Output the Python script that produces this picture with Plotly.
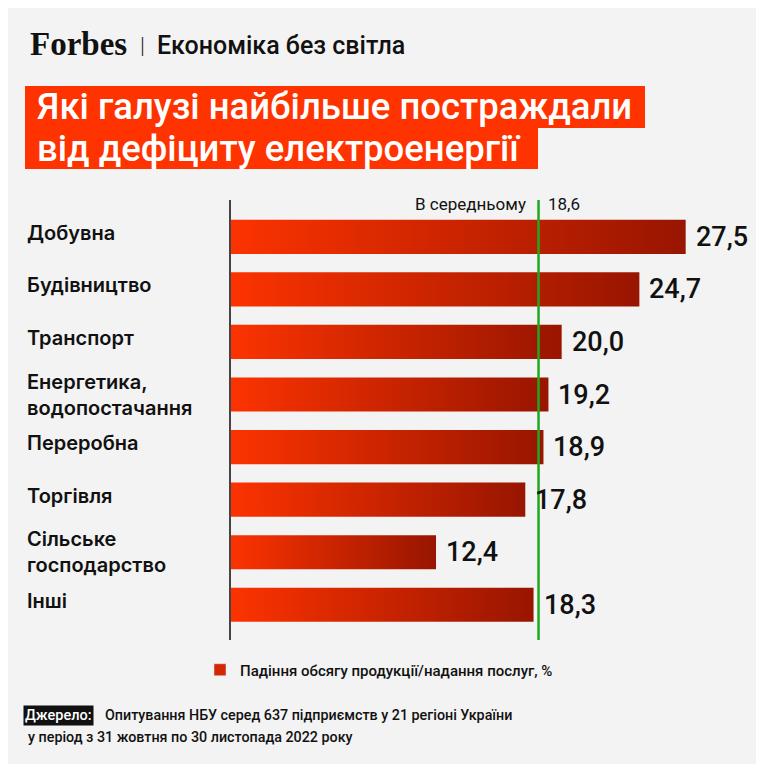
import plotly.graph_objects as go

# data
categories = ["Добувна", "Будівництво", "Транспорт", "Енергетика,<br>водопостачання",
              "Переробна", "Торгівля", "Сільське<br>господарство", "Інші"]
values = [27.5, 24.7, 20.0, 19.2, 18.9, 17.8, 12.4, 18.3]
average = 18.6
average_label = "В середньому"
series_name = "Падіння обсягу продукції/надання послуг, %"

W, H = 764, 764
OFF = 8  # page body margin offset
L, R, T, B = 231 - OFF, 37 + OFF, 200 - OFF, 124 + OFF
PW, PH = W - L - R, H - T - B
BG = "#f3f3f3"
RED = "#ff3300"
GRAD = [[0, "#fc3300"], [1, "#981500"]]
FONT = "Roboto"
LABEL_FONT = "Inter"


def px(x, y):
    # pixel position (as in the target) -> paper coords
    return (x - OFF - L) / PW, (H - B - (y - OFF)) / PH


def fmt(v):
    return f"{v:.1f}".replace(".", ",")


fig = go.Figure()

half = 0.325
for i, (cat, v) in enumerate(zip(categories, values)):
    fig.add_trace(go.Scatter(
        x=[0, v, v, 0, 0],
        y=[i - half, i - half, i + half, i + half, i - half],
        mode="lines",
        fill="toself",
        fillgradient=dict(type="horizontal", colorscale=GRAD),
        line=dict(width=0),
        showlegend=False,
        hoverinfo="skip",
    ))

# legend-only entry (square swatch)
fig.add_trace(go.Bar(x=[None], y=[None], orientation="h", name=series_name,
                     marker=dict(color="#d42800"), showlegend=True))

annotations = []

# category labels
for i, cat in enumerate(categories):
    x0, _ = px(25, 0)
    annotations.append(dict(
        x=x0, y=i, xref="paper", yref="y", text=cat, showarrow=False,
        xanchor="left", yanchor="middle", align="left",
        yshift=0 if "<br>" in cat else 4,
        font=dict(family=LABEL_FONT, size=20, color="#111", weight=600),
    ))

# value labels
for i, v in enumerate(values):
    annotations.append(dict(
        x=v, y=i, xref="x", yref="y", text=fmt(v), showarrow=False,
        xanchor="left", yanchor="middle", xshift=8,
        font=dict(family=FONT, size=27, color="#111", weight=500),
    ))

# average labels
_, ya = px(0, 204)
annotations.append(dict(
    x=average, y=ya, xref="x", yref="paper", text=average_label, showarrow=False,
    xanchor="right", yanchor="middle", xshift=-11,
    font=dict(family=FONT, size=17, color="#111"),
))
annotations.append(dict(
    x=average, y=ya, xref="x", yref="paper", text=fmt(average), showarrow=False,
    xanchor="left", yanchor="middle", xshift=7,
    font=dict(family=FONT, size=17, color="#111"),
))

# header
x, y = px(28, 44)
annotations.append(dict(
    x=x, y=y, xref="paper", yref="paper", text="<b>Forbes</b>", showarrow=False,
    xanchor="left", yanchor="middle",
    font=dict(family="Liberation Serif", size=33, color="#111"),
))
x, y = px(142, 46)
annotations.append(dict(
    x=x, y=y, xref="paper", yref="paper", text="|", showarrow=False,
    xanchor="center", yanchor="middle",
    font=dict(family=FONT, size=22, color="#222", weight=300),
))
x, y = px(155, 46)
annotations.append(dict(
    x=x, y=y, xref="paper", yref="paper", text="Економіка без світла", showarrow=False,
    xanchor="left", yanchor="middle",
    font=dict(family=FONT, size=25, color="#111", weight=500),
))

# title (white on red blocks)
shapes = []
for (x0p, y0p, x1p, y1p) in [(25, 86, 645, 128), (25, 127, 538, 169)]:
    a, b = px(x0p, y0p)
    c, d = px(x1p, y1p)
    shapes.append(dict(type="rect", xref="paper", yref="paper", x0=a, y0=b, x1=c, y1=d,
                       fillcolor=RED, line=dict(width=0), layer="below"))
for txt, yc in [("Які галузі найбільше постраждали", 106), ("від дефіциту електроенергії", 148)]:
    x, y = px(35, yc)
    annotations.append(dict(
        x=x, y=y, xref="paper", yref="paper", text=txt, showarrow=False,
        xanchor="left", yanchor="middle",
        font=dict(family=FONT, size=36.5, color="white", weight=500),
    ))

# average line
shapes.append(dict(type="line", xref="x", yref="paper", x0=average, x1=average, y0=0, y1=1,
                   line=dict(color="#1fa81f", width=2.5)))

# source
x, y = px(23, 715)
annotations.append(dict(
    x=x, y=y, xref="paper", yref="paper", text="Джерело:", showarrow=False,
    xanchor="left", yanchor="middle", bgcolor="#111", borderpad=1,
    font=dict(family=FONT, size=14.5, color="white", weight=500),
))
x, y = px(103, 715)
annotations.append(dict(
    x=x, y=y, xref="paper", yref="paper",
    text="Опитування НБУ серед 637 підприємств у 21 регіоні України", showarrow=False,
    xanchor="left", yanchor="middle",
    font=dict(family=FONT, size=14.3, color="#111", weight=500),
))
x, y = px(26, 737)
annotations.append(dict(
    x=x, y=y, xref="paper", yref="paper",
    text="у період з 31 жовтня по 30 листопада 2022 року", showarrow=False,
    xanchor="left", yanchor="middle",
    font=dict(family=FONT, size=14.3, color="#111", weight=500),
))

fig.update_layout(
    width=W, height=H,
    margin=dict(l=L, r=R, t=T, b=B, autoexpand=False),
    paper_bgcolor=BG, plot_bgcolor=BG,
    xaxis=dict(range=[0, 30], visible=False, fixedrange=True),
    yaxis=dict(range=[len(values) - 1 + 0.67, -0.7], showticklabels=False, showgrid=False,
               zeroline=False, showline=True, linecolor="#444", linewidth=1.5, ticks=""),
    annotations=annotations,
    shapes=shapes,
    legend=dict(
        xref="container", yref="container", x=(200 - OFF) / W, y=1 - (670 - OFF) / H,
        xanchor="left", yanchor="middle", bgcolor="rgba(0,0,0,0)",
        font=dict(family=FONT, size=15, color="#111", weight=500),
    ),
    showlegend=True,
)

fig.write_html("out.html")
